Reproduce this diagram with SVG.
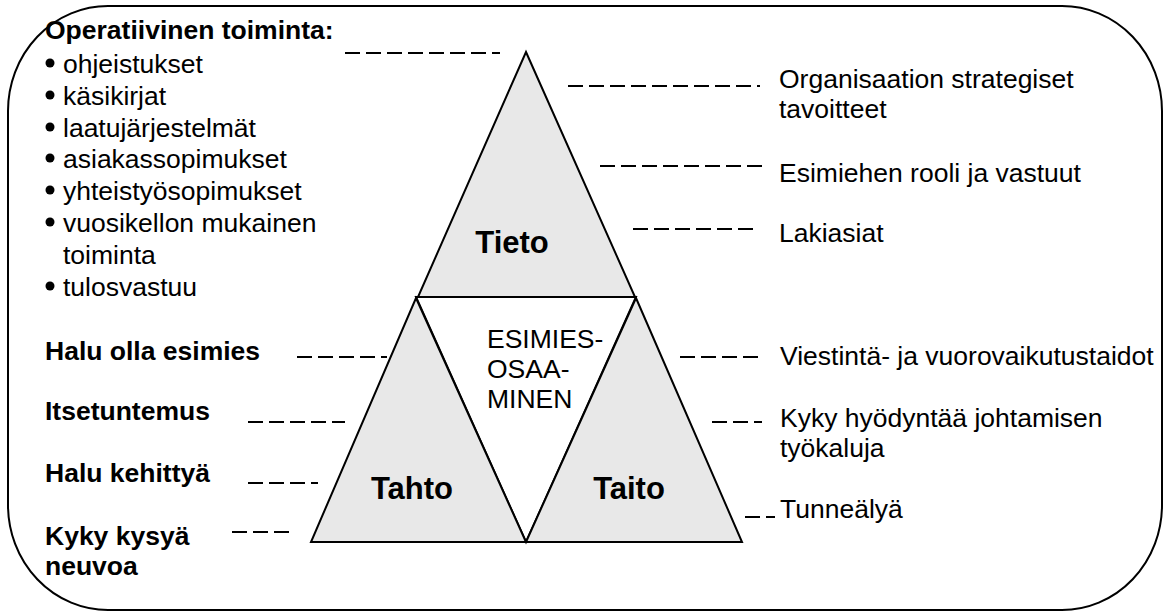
<svg xmlns="http://www.w3.org/2000/svg" width="1173" height="611" viewBox="0 0 1173 611">
<style>
text{font-family:"Liberation Sans",Arial,sans-serif;fill:#000}
.r{font-size:26.5px}
.b{font-size:26.5px;font-weight:bold}
.big{font-size:31px;font-weight:bold;text-anchor:middle}
.tri{fill:#e8e8e8;stroke:#000;stroke-width:2;stroke-linejoin:miter}
.dash{stroke:#000;stroke-width:2;stroke-dasharray:15 6;fill:none}
</style>
<rect id="frame" x="8" y="6" width="1154" height="604" rx="100" ry="105" fill="#fff" stroke="#000" stroke-width="2"/>
<g id="connectors">
<line class="dash" x1="345" y1="53" x2="500" y2="53"/>
<line class="dash" x1="568" y1="86" x2="760" y2="86"/>
<line class="dash" x1="600" y1="166" x2="762" y2="166"/>
<line class="dash" x1="633" y1="229" x2="758" y2="229"/>
<line class="dash" x1="680" y1="357" x2="762" y2="357"/>
<line class="dash" x1="712" y1="422" x2="762" y2="422"/>
<line class="dash" x1="745" y1="517" x2="775" y2="517"/>
<line class="dash" x1="297" y1="357" x2="387" y2="357"/>
<line class="dash" x1="248" y1="422" x2="345" y2="422"/>
<line class="dash" x1="248" y1="483" x2="318" y2="483"/>
<line class="dash" x1="232" y1="532" x2="292" y2="532"/>
</g>
<g id="tieto">
<polygon class="tri" points="526,52 635,297 418,297"/>
<text class="big" x="512" y="253">Tieto</text>
</g>
<g id="esimiesosaaminen">
<polygon class="tri" style="fill:#fff" points="416,297 636,297 526,542"/>
<text class="r" x="487" y="348">ESIMIES-</text>
<text class="r" x="487" y="378">OSAA-</text>
<text class="r" x="487" y="408">MINEN</text>
</g>
<g id="tahto">
<polygon class="tri" points="416,298 526,542 311,542"/>
<text class="big" x="412" y="499">Tahto</text>
</g>
<g id="taito">
<polygon class="tri" points="636,298 742,542 526,542"/>
<text class="big" x="629" y="499">Taito</text>
</g>
<g id="operatiivinen">
<text class="b" x="45" y="39">Operatiivinen toiminta:</text>
<circle cx="50" cy="63" r="4.5"/><text class="r" x="63" y="73">ohjeistukset</text>
<circle cx="50" cy="95" r="4.5"/><text class="r" x="63" y="105">käsikirjat</text>
<circle cx="50" cy="127" r="4.5"/><text class="r" x="63" y="137">laatujärjestelmät</text>
<circle cx="50" cy="158" r="4.5"/><text class="r" x="63" y="168">asiakassopimukset</text>
<circle cx="50" cy="190" r="4.5"/><text class="r" x="63" y="200">yhteistyösopimukset</text>
<circle cx="50" cy="222" r="4.5"/><text class="r" x="63" y="232">vuosikellon mukainen</text>
<text class="r" x="63" y="264">toiminta</text>
<circle cx="50" cy="286" r="4.5"/><text class="r" x="63" y="296">tulosvastuu</text>
</g>
<g id="left-labels">
<text class="b" x="45" y="360">Halu olla esimies</text>
<text class="b" x="45" y="420">Itsetuntemus</text>
<text class="b" x="45" y="482">Halu kehittyä</text>
<text class="b" x="45" y="545">Kyky kysyä</text>
<text class="b" x="45" y="575">neuvoa</text>
</g>
<g id="right-labels">
<text class="r" x="779" y="88">Organisaation strategiset</text>
<text class="r" x="779" y="118">tavoitteet</text>
<text class="r" x="779" y="182">Esimiehen rooli ja vastuut</text>
<text class="r" x="779" y="242">Lakiasiat</text>
<text class="r" x="780" y="365">Viestintä- ja vuorovaikutustaidot</text>
<text class="r" x="780" y="427">Kyky hyödyntää johtamisen</text>
<text class="r" x="780" y="457">työkaluja</text>
<text class="r" x="780" y="518">Tunneälyä</text>
</g>
</svg>
